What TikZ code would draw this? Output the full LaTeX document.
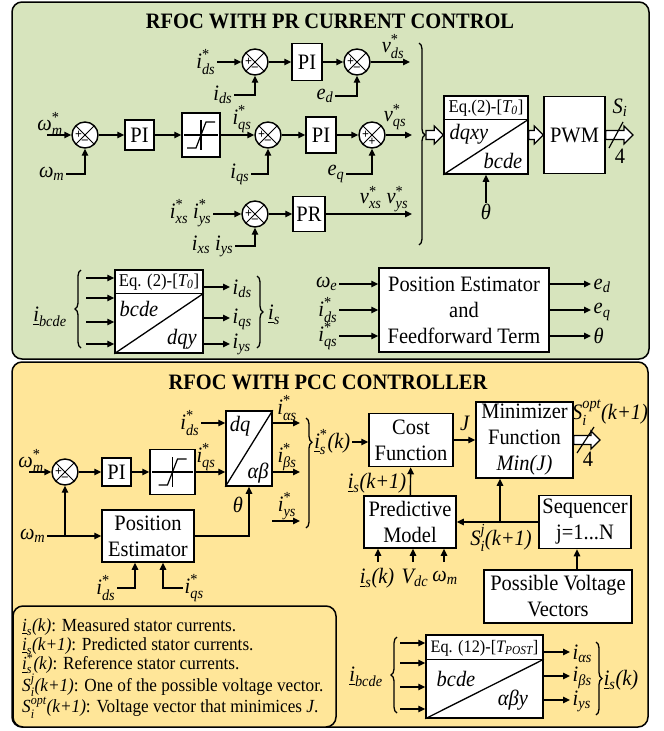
\documentclass[tikz,border=0pt]{standalone}
\usepackage{amsmath}
\usepackage{fontspec}
\setmainfont{Liberation Serif}[FakeStretch=0.93]
\usetikzlibrary{arrows.meta,calc,decorations.pathreplacing}
\definecolor{gbg}{HTML}{D7E4BD}
\definecolor{ybg}{HTML}{FFE699}
\newcommand{\fs}{\fontsize{22}{26}\selectfont}
\newcommand{\fsm}{\fontsize{18}{21}\selectfont}
\newcommand{\VA}[2]{$\textit{#1}_{\textit{#2}}$}
\newcommand{\VB}[2]{$\textit{#1}^{\textrm{*}}_{\textit{#2}}$}
\newcommand{\UI}[1]{$\underline{\textit{i}}_{\textit{#1}}$}
\newcommand{\sumj}[4]{%
  \node[sj] (#1) at (#2,#3) {};
  \node[sgn] at ($(#1)+(-6.5,0)$) {+};
  \node[sgn] at ($(#1)+(0,6.5)$) {#4};}
\newcommand{\satsym}[1]{%
  \draw[line width=1.2pt] ($(#1.west)+(3,0)$) -- ($(#1.east)+(-3,0)$);
  \draw[line width=1.2pt] ($(#1)+(0,-15)$) -- ($(#1)+(0,15)$);
  \draw[line width=1.2pt] ($(#1)+(-14,13)$) -- ($(#1)+(-5,13)$) -- ($(#1)+(5,-13)$) -- ($(#1)+(14,-13)$);}
\newcommand{\harrow}[2]{%
  \path let \p1=(#1), \p2=(#2) in [draw, fill=white, line width=1.2pt, line join=miter]
    (\x1,\y1+4.5pt) -- (\x2-9pt,\y1+4.5pt) -- (\x2-9pt,\y1+9pt) -- (\x2,\y1) --
    (\x2-9pt,\y1-9pt) -- (\x2-9pt,\y1-4.5pt) -- (\x1,\y1-4.5pt) -- cycle;}
\begin{document}
\begin{tikzpicture}[x=1pt,y=-1pt,
  every node/.style={font=\fs},
  panel/.style={draw, line width=1.5pt, rounded corners=10pt},
  blk/.style={draw, line width=1.5pt, fill=white, inner sep=0pt, align=center},
  lab/.style={inner sep=1.5pt},
  arr/.style={line width=1.4pt, -{Triangle[length=7pt,width=6.5pt]}},
  sj/.style={circle, draw, line width=1.4pt, fill=white, minimum size=26pt, inner sep=0pt,
    path picture={\draw[line width=1pt] (path picture bounding box.north west) -- (path picture bounding box.south east)
      (path picture bounding box.north east) -- (path picture bounding box.south west);}},
  sgn/.style={font=\bfseries\fontsize{13}{13}\selectfont, inner sep=0pt},
  brc/.style={decorate, line width=1.3pt},
  hdr/.style={font=\fsm, inner sep=0pt}
]
\useasboundingbox (0,0) rectangle (664,731);

% ================= GREEN PANEL =================
\draw[panel, fill=gbg] (12,2) rectangle (649,359);
\node[font=\fs\bfseries] (t1) at (330,21) {RFOC WITH PR CURRENT CONTROL};

% Row 1
\node[lab,anchor=east] (Lids1) at (217,62) {\VB{i}{ds}};
\sumj{s1}{255}{62}{–}
\node[blk, minimum width=30pt, minimum height=37pt] (pi1) at (307,62) {PI};
\sumj{s2}{357}{62}{–}
\coordinate (vds) at (410,62);
\node[lab] (Lvds) at (393,47) {\VB{v}{ds}};
\node[lab,anchor=east] (Lids2) at (234,95) {\VA{i}{ds}};
\node[lab,anchor=east] (Led) at (335,96) {\VA{e}{d}};
\draw[arr] (Lids1) -- (s1);
\draw[arr] (s1) -- (pi1);
\draw[arr] (pi1) -- (s2);
\draw[arr] (s2) -- (vds);
\draw[arr] (Lids2) -| (s1);
\draw[arr] (Led) -| (s2);

% Row 2
\coordinate (wmr) at (47,135);
\node[lab] (Lwmr) at (50,124) {\VB{ω}{m}};
\sumj{s3}{85}{135}{–}
\node[lab,anchor=east] (Lwm1) at (66,174) {\VA{ω}{m}};
\node[blk, minimum width=29pt, minimum height=30pt] (pi2) at (139.5,135) {PI};
\node[blk, minimum width=38pt, minimum height=44pt] (sat1) at (201,135) {};
\satsym{sat1}
\sumj{s4}{268}{135}{–}
\node[lab] (Liqs1) at (242,119) {\VB{i}{qs}};
\node[lab,anchor=east] (Liqs2) at (251,174) {\VA{i}{qs}};
\node[blk, minimum width=30pt, minimum height=36pt] (pi3) at (321,135) {PI};
\sumj{s5}{372}{135}{+}
\node[lab,anchor=east] (Leq) at (346,174) {\VA{e}{q}};
\coordinate (vqs) at (412,135);
\node[lab] (Lvqs) at (395,117) {\VB{v}{qs}};
\draw[arr] (wmr) -- (s3);
\draw[arr] (Lwm1) -| (s3);
\draw[arr] (s3) -- (pi2);
\draw[arr] (pi2) -- (sat1);
\draw[arr] (sat1) -- (s4);
\draw[arr] (Liqs2) -| (s4);
\draw[arr] (s4) -- (pi3);
\draw[arr] (pi3) -- (s5);
\draw[arr] (Leq) -| (s5);
\draw[arr] (s5) -- (vqs);

% Row 3
\node[lab,anchor=east] (Lixy1) at (213,213) {\VB{i}{xs} \VB{i}{ys}};
\sumj{s6}{255}{214}{–}
\node[lab,anchor=east] (Lixy2) at (235,246) {\VA{i}{xs} \VA{i}{ys}};
\node[blk, minimum width=32pt, minimum height=35pt] (pr) at (309,214) {PR};
\coordinate (vxy) at (412,214);
\node[lab] (Lvxy) at (384,199) {\VB{v}{xs} \VB{v}{ys}};
\draw[arr] (Lixy1.east |- s6) -- (s6);
\draw[arr] (Lixy2) -| (s6);
\draw[arr] (s6) -- (pr);
\draw[arr] (pr) -- (vxy);

% brace and transformation
\draw[brc, decoration={brace, amplitude=6pt, aspect=0.455}] (419,43) -- (419,245);
\coordinate (btip) at (426,135);
\node[blk, minimum width=84pt, minimum height=78pt] (tr1) at (486,135) {};
\draw[line width=1.5pt] ([yshift=-24pt]tr1.north west) -- ([yshift=-24pt]tr1.north east);
\draw[line width=1.3pt] (tr1.south west) -- ([yshift=-24pt]tr1.north east);
\node[hdr] at (486,108) {Eq.(2)-[$\textit{T}_{\textit{0}}$]};
\node[inner sep=0pt] at (469,134) {\textit{dqxy}};
\node[inner sep=0pt] at (503,161) {\textit{bcde}};
\node[lab] (Lth1) at (486,212) {\textit{θ}};
\draw[arr] (Lth1.north) -- (Lth1.north |- tr1.south);
\node[blk, minimum width=61pt, minimum height=77pt] (pwm) at (574.5,135) {PWM};
\coordinate (siout) at (633,135);
\harrow{btip}{tr1.west}
\harrow{tr1.east}{pwm.west}
\harrow{pwm.east}{siout}
\draw[line width=1.2pt] (609,148) -- (623,122);
\node[lab] (Lsi) at (620,108) {\VA{S}{i}};
\node[lab] (L4a) at (620,156) {4};

% bottom-left block
\node[lab] (Lbcde1) at (50,317) {\UI{bcde}};
\draw[brc, decoration={brace, amplitude=6pt}] (81,348) -- (81,270);
\node[blk, minimum width=88pt, minimum height=83pt] (tr2) at (159,311.5) {};
\draw[line width=1.5pt] ([yshift=-24pt]tr2.north west) -- ([yshift=-24pt]tr2.north east);
\draw[line width=1.3pt] (tr2.south west) -- ([yshift=-24pt]tr2.north east);
\node[hdr] at (159,282) {Eq. (2)-[$\textit{T}_{\textit{0}}$]};
\node[inner sep=0pt] at (139,309) {\textit{bcde}};
\node[inner sep=0pt] at (182,339) {\textit{dqy}};
\foreach \yy [count=\k] in {278,298,322,344} {
  \coordinate (bi\k) at (86,\yy);
  \draw[arr] (bi\k) -- (bi\k -| tr2.west);
}
\coordinate (bo1) at (230,287);
\coordinate (bo2) at (230,318);
\coordinate (bo3) at (230,344);
\draw[arr] (bo1 -| tr2.east) -- (bo1);
\draw[arr] (bo2 -| tr2.east) -- (bo2);
\draw[arr] (bo3 -| tr2.east) -- (bo3);
\node[lab,anchor=west] at (231,289) {\VA{i}{ds}};
\node[lab,anchor=west] at (231,319) {\VA{i}{qs}};
\node[lab,anchor=west] at (231,344) {\VA{i}{ys}};
\draw[brc, decoration={brace, amplitude=6pt}] (257,276) -- (257,348);
\node[lab] at (274,315) {\UI{s}};

% position estimator & feedforward
\node[blk, minimum width=170pt, minimum height=84pt] (pe1) at (464,310) {Position Estimator\\and\\Feedforward Term};
\node[lab,anchor=east] (Lwe) at (339,284) {\VA{ω}{e}};
\node[lab,anchor=east] (Lids3) at (339,310) {\VB{i}{ds}};
\node[lab,anchor=east] (Liqs3) at (339,336) {\VB{i}{qs}};
\draw[arr] (Lwe) -- (Lwe -| pe1.west);
\draw[arr] (Lids3) -- (Lids3 -| pe1.west);
\draw[arr] (Liqs3) -- (Liqs3 -| pe1.west);
\coordinate (po1) at (591,284);
\coordinate (po2) at (591,310);
\coordinate (po3) at (591,336);
\draw[arr] (po1 -| pe1.east) -- (po1);
\draw[arr] (po2 -| pe1.east) -- (po2);
\draw[arr] (po3 -| pe1.east) -- (po3);
\node[lab,anchor=west] at (592,286) {\VA{e}{d}};
\node[lab,anchor=west] at (592,312) {\VA{e}{q}};
\node[lab,anchor=west] at (592,336) {\textit{θ}};

% ================= YELLOW PANEL =================
\draw[panel, fill=ybg] (12,362) rectangle (648,727);
\node[font=\fs\bfseries] (t2) at (328,382) {RFOC WITH PCC CONTROLLER};

\coordinate (wmr2) at (29,472);
\node[lab] (Lwmr2) at (31,461) {\VB{ω}{m}};
\sumj{s7}{65}{472}{–}
\node[blk, minimum width=29pt, minimum height=28pt] (pi4) at (116.5,472) {PI};
\node[blk, minimum width=45pt, minimum height=45pt] (sat2) at (172.5,472) {};
\satsym{sat2}
\node[blk, minimum width=46pt, minimum height=75pt] (dqab) at (249,448.5) {};
\draw[line width=1.3pt] (dqab.south west) -- (dqab.north east);
\node[inner sep=0pt] at (240,426) {\textit{dq}};
\node[inner sep=0pt] at (258,473) {\textit{αβ}};
\node[lab] (Liqs4) at (206,457) {\VB{i}{qs}};
\node[lab,anchor=east] (Lids4) at (201,423) {\VB{i}{ds}};
\draw[arr] (wmr2) -- (s7);
\draw[arr] (s7) -- (pi4);
\draw[arr] (pi4) -- (sat2);
\draw[arr] (sat2) -- (sat2 -| dqab.west);
\draw[arr] (Lids4) -- (Lids4 -| dqab.west);
\coordinate (oa) at (300,423);
\coordinate (ob) at (300,472);
\coordinate (oy) at (300,521);
\coordinate (oys) at (272,521);
\draw[arr] (oa -| dqab.east) -- (oa);
\draw[arr] (ob -| dqab.east) -- (ob);
\draw[arr] (oys) -- (oy);
\node[lab] at (287,408) {\VB{i}{αs}};
\node[lab] at (287,457) {\VB{i}{βs}};
\node[lab] at (287,506) {\VB{i}{ys}};
\draw[brc, decoration={brace, amplitude=6pt, aspect=0.22}] (306,418) -- (306,528);

\node[blk, minimum width=92pt, minimum height=52pt] (pe2) at (148,536) {Position\\Estimator};
\node[lab,anchor=east] (Lwm2) at (47,536) {\VA{ω}{m}};
\coordinate (j1) at (65,536);
\draw[arr] (Lwm2) -- (pe2);
\draw[arr] (j1) -- (s7);
\draw[arr] (pe2.east) -| (dqab.south);
\node[lab] at (238,505) {\textit{θ}};
\node[lab,anchor=east] (Lids5) at (117,588) {\VB{i}{ds}};
\node[lab,anchor=west] (Liqs5) at (183,588) {\VB{i}{qs}};
\draw[arr] (Lids5) -| ([xshift=-13pt]pe2.south);
\draw[arr] (Liqs5) -| ([xshift=15pt]pe2.south);

% PCC right part
\node[blk, minimum width=84pt, minimum height=53pt] (cost) at (411,440) {Cost\\Function};
\node[lab,anchor=east] (Lisk) at (352,442) {$\underline{\textit{i}}^{\textrm{*}}_{\textit{s}}$\textit{(k)}};
\draw[arr] (Lisk) -- (Lisk -| cost.west);
\node[blk, minimum width=97pt, minimum height=76pt] (mini) at (524.5,440) {Minimizer\\Function\\\textit{Min(J)}};
\draw[arr] (cost) -- (mini);
\node[lab] (LJ) at (465,423) {\textit{J}};
\coordinate (sopt) at (600,440);
\harrow{mini.east}{sopt}
\draw[line width=1.2pt] (577,453) -- (594,427);
\node[lab] (L4b) at (588,459) {4};
\node[lab] (Lsopt) at (610,413) {$\textit{S}^{\textit{opt}}_{\textit{i}}$\textit{(k+1)}};
\node[blk, minimum width=92pt, minimum height=52pt] (pm) at (410,522) {Predictive\\Model};
\draw[arr] (pm) -- (cost);
\node[lab] (Lisk1) at (377,483) {\UI{s}\textit{(k+1)}};
\node[blk, minimum width=92pt, minimum height=53pt] (seq) at (585,522) {Sequencer\\j=1...N};
\draw[arr] (seq) -- (pm);
\coordinate (jb) at (500,522);
\draw[arr] (jb) -- (jb |- mini.south);
\node[lab] (Lsj) at (501,538) {$\textit{S}^{\textit{j}}_{\textit{i}}$\textit{(k+1)}};
\node[lab] (Lik) at (377,578) {\UI{s}\textit{(k)}};
\node[lab] (Lvdc) at (415,578) {\VA{V}{dc}};
\node[lab] (Lwm3) at (445,578) {\VA{ω}{m}};
\coordinate (pa1) at (378,562);
\coordinate (pa2) at (413,562);
\coordinate (pa3) at (444,562);
\draw[arr] (pa1) -- (pa1 |- pm.south);
\draw[arr] (pa2) -- (pa2 |- pm.south);
\draw[arr] (pa3) -- (pa3 |- pm.south);
\node[blk, minimum width=148pt, minimum height=53pt] (pvv) at (558,596.5) {Possible Voltage\\Vectors};
\coordinate (sq) at ([xshift=-8pt]seq.south);
\draw[arr] (sq |- pvv.north) -- (sq);

% legend
\draw[panel, fill=ybg] (13,606) rectangle (336,727);
\node[anchor=north west, align=left, inner sep=0pt, font=\fontsize{18.5}{20.3}\selectfont] (leg) at (22,618) {%
\UI{s}\textit{(k)}: Measured stator currents.\\[-1pt]
\UI{s}\textit{(k+1)}: Predicted stator currents.\\[-1pt]
$\underline{\textit{i}}^{\textrm{*}}_{\textit{s}}$\textit{(k)}: Reference stator currents.\\[-1pt]
$\textit{S}^{\textit{j}}_{\textit{i}}$\textit{(k+1)}: One of the possible voltage vector.\\[-1pt]
$\textit{S}^{\textit{opt}}_{\textit{i}}$\textit{(k+1)}: Voltage vector that minimices \textit{J}.};

% bottom-right block
\node[lab] (Lbcde2) at (366,677) {\UI{bcde}};
\draw[brc, decoration={brace, amplitude=6pt}] (397,713) -- (397,637);
\node[blk, minimum width=117pt, minimum height=83pt] (tr3) at (484.5,676.5) {};
\draw[line width=1.5pt] ([yshift=-25pt]tr3.north west) -- ([yshift=-25pt]tr3.north east);
\draw[line width=1.3pt] (tr3.south west) -- ([yshift=-25pt]tr3.north east);
\node[hdr, font=\fontsize{17.5}{20}\selectfont] at (484.5,648) {Eq. (12)-[$\textit{T}_{\textit{POST}}$]};
\node[inner sep=0pt] at (456,679) {\textit{bcde}};
\node[inner sep=0pt] at (513,700) {\textit{αβy}};
\foreach \yy [count=\k] in {643,663,687,709} {
  \coordinate (ci\k) at (400,\yy);
  \draw[arr] (ci\k) -- (ci\k -| tr3.west);
}
\coordinate (co1) at (570,652);
\coordinate (co2) at (570,676);
\coordinate (co3) at (570,700);
\draw[arr] (co1 -| tr3.east) -- (co1);
\draw[arr] (co2 -| tr3.east) -- (co2);
\draw[arr] (co3 -| tr3.east) -- (co3);
\node[lab,anchor=west] at (571,654) {\VA{i}{αs}};
\node[lab,anchor=west] at (571,678) {\VA{i}{βs}};
\node[lab,anchor=west] at (571,701) {\VA{i}{ys}};
\draw[brc, decoration={brace, amplitude=6pt}] (596,642) -- (596,715);
\node[lab] at (621,680) {\UI{s}\textit{(k)}};
\end{tikzpicture}
\end{document}
